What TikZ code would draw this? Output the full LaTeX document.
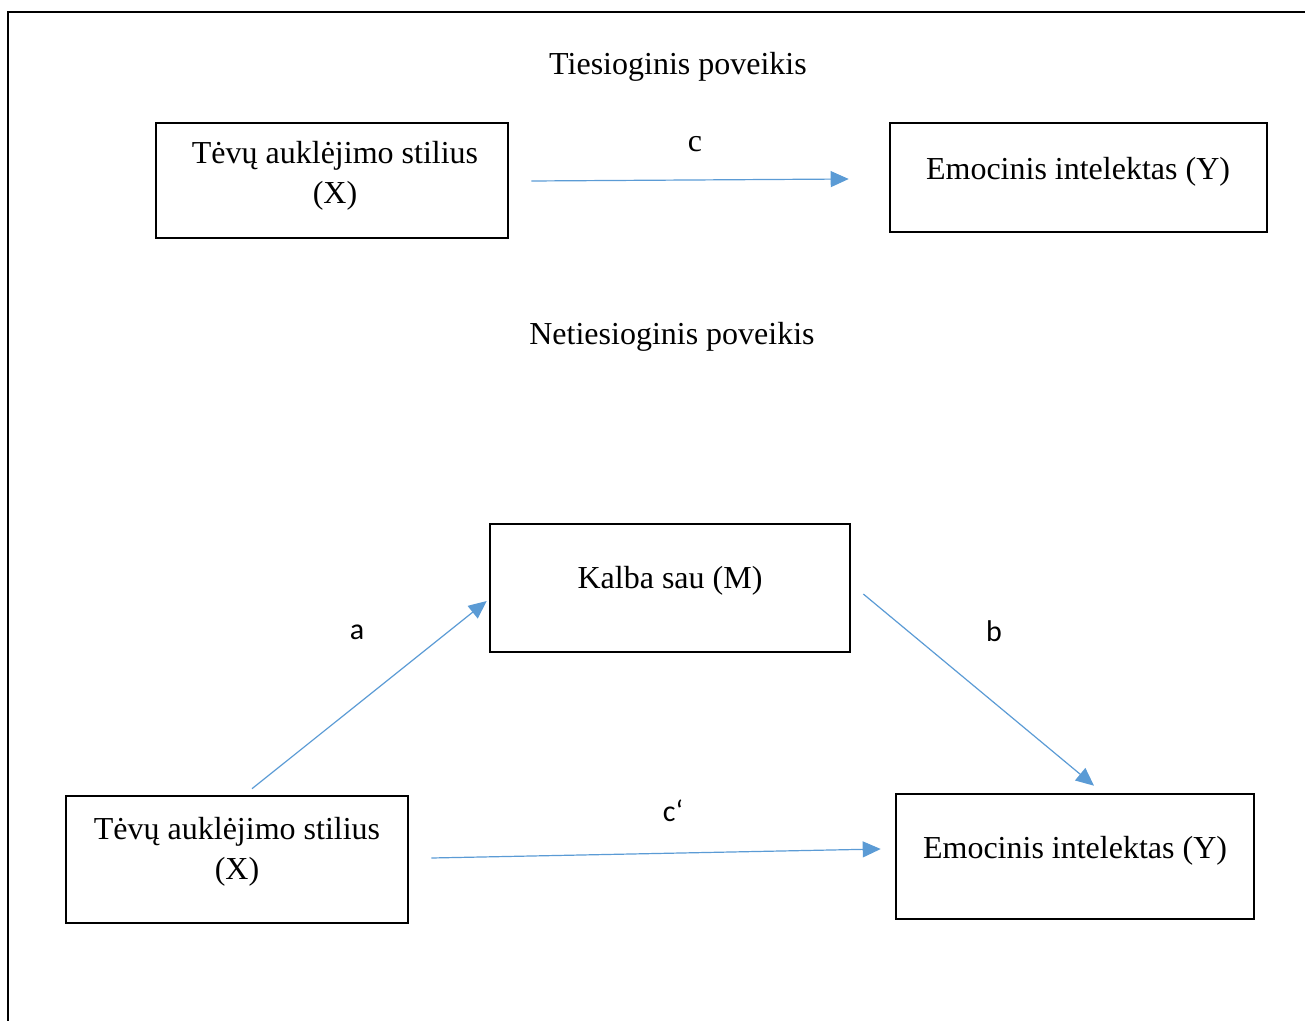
\documentclass[tikz,border=0pt]{standalone}
\usepackage{fontspec}
\setmainfont{Liberation Serif}
\newfontfamily\calibri{Carlito}
\usetikzlibrary{arrows.meta}

\tikzset{
  box/.style={draw, line width=1.3pt, inner sep=0pt},
  txt/.style={align=center, font=\fontsize{16}{20}\selectfont},
  lbl/.style={font=\calibri\fontsize{15}{18}\selectfont},
  arr/.style={draw={rgb,255:red,91;green,155;blue,213}, line width=0.6pt,
    -{Triangle[length=9pt,width=8pt]}}
}

\begin{document}
\begin{tikzpicture}[x=0.5pt,y=-0.5pt]
        \useasboundingbox (0,0) rectangle (1305,1021);

        % frame
        \draw[line width=1.4pt] (8,1030) -- (8,12) -- (1310,12);

        % direct effect
        \node[txt] (ttl1) at (678,67) {Tiesioginis poveikis};
        \node[box, minimum width=176pt, minimum height=57.5pt] (xtop) at (332,180.5) {};
        \node[box, minimum width=188.5pt, minimum height=54.5pt] (ytop) at (1078.5,177.5) {};
        \node[txt] (xtoptxt) at (335,176) {Tėvų auklėjimo stilius\\(X)};
        \node[txt] (ytoptxt) at (1078,172) {Emocinis intelektas (Y)};
        \draw[arr] ([shift={(22,0.5)}]xtop.east) -- ([shift={(-40,1.5)}]ytop.west);
        \node[txt] (c) at (695,144) {c};

        % indirect effect
        \node[txt] (ttl2) at (672,337) {Netiesioginis poveikis};
        \node[box, minimum width=180pt, minimum height=64pt] (med) at (670,588) {};
        \node[box, minimum width=171pt, minimum height=63.5pt] (xbot) at (237,859.5) {};
        \node[box, minimum width=179pt, minimum height=62.5pt] (ybot) at (1075,856.5) {};
        \node[txt] (medtxt) at (670,581) {Kalba sau (M)};
        \node[txt] (xbottxt) at (237,852) {Tėvų auklėjimo stilius\\(X)};
        \node[txt] (ybottxt) at (1075,851) {Emocinis intelektas (Y)};

        \draw[arr] ([shift={(15,-6)}]xbot.north) -- ([shift={(-2,13)}]med.west);
        \draw[arr] ([shift={(12,6)}]med.east) -- ([shift={(19,-7)}]ybot.north);
        \draw[arr] ([shift={(22,-1.5)}]xbot.east) -- ([shift={(-14,-7.5)}]ybot.west);
        \node[lbl] (a) at (357,632) {a};
        \node[lbl] (b) at (994,631) {b};
        \node[lbl] (cc) at (673,811) {c‘};
      \end{tikzpicture}
\end{document}
